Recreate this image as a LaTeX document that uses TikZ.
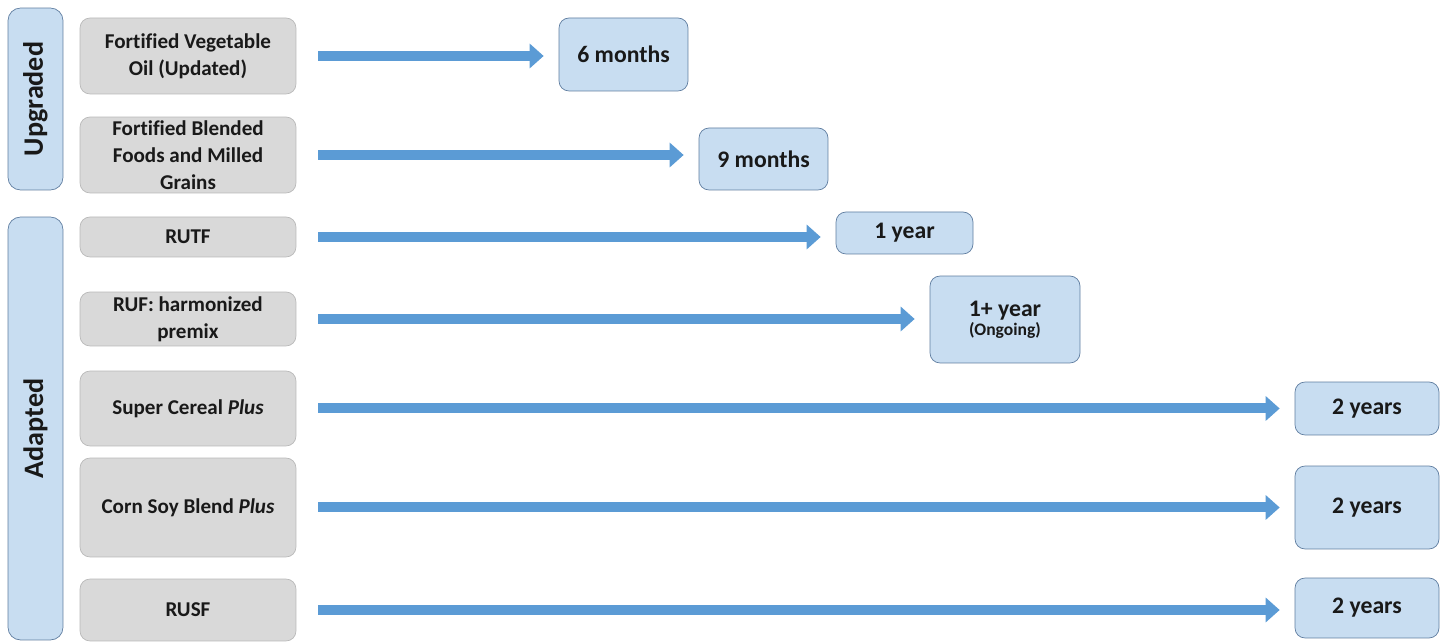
\documentclass[tikz,border=0pt]{standalone}
\usepackage{fontspec}
\setmainfont{Carlito}[Ligatures=CommonOff]
\usetikzlibrary{arrows.meta}
\definecolor{greyfill}{RGB}{217,217,217}
\definecolor{greyline}{RGB}{185,185,185}
\definecolor{bluefill}{RGB}{200,221,241}
\definecolor{blueline}{RGB}{95,125,160}
\definecolor{arrowblue}{RGB}{91,155,213}
\definecolor{inktext}{RGB}{25,25,25}

\begin{document}
\begin{tikzpicture}[x=0.02cm, y=-0.02cm,
		food/.style={draw=greyline, fill=greyfill, rounded corners=0.2cm, inner sep=0pt, minimum width=4.32cm, align=center, text=inktext, font=\fontsize{12}{15.3}\selectfont\bfseries},
		period/.style={draw=blueline, fill=bluefill, rounded corners=0.2cm, inner sep=0pt, align=center, text=inktext, font=\fontsize{13.5}{16}\selectfont\bfseries},
		group/.style={draw=blueline, fill=bluefill, rounded corners=0.25cm, inner sep=0pt, rotate=90, minimum height=1.1cm, text=inktext, font=\fontsize{16}{19}\selectfont\bfseries},
		bar/.style={draw=arrowblue, line width=0.2cm, shorten <=0.44cm, shorten >=0.3cm, -{Triangle[width=0.48cm, length=0.28cm]}}
	]
		\useasboundingbox (0,0) rectangle (1443,644);

		\node[group, minimum width=3.64cm] (upg) at (35.5,99) {Upgraded};
		\node[group, minimum width=8.46cm] (adp) at (35.5,428.5) {Adapted};

		\node[food, minimum height=1.52cm] (fvo) at (188,56) {Fortified Vegetable\\Oil (Updated)};
		\node[food, minimum height=1.52cm] (fbf) at (188,155) {Fortified Blended\\Foods and Milled\\Grains};
		\node[food, minimum height=0.8cm] (rutf) at (188,237) {RUTF};
		\node[food, minimum height=1.08cm] (ruf) at (188,319) {RUF: harmonized\\premix};
		\node[food, minimum height=1.5cm] (scp) at (188,408.5) {Super Cereal \textit{Plus}};
		\node[food, minimum height=1.98cm] (csb) at (188,507.5) {Corn Soy Blend \textit{Plus}};
		\node[food, minimum height=1.24cm] (rusf) at (188,610) {RUSF};

		\node[period, minimum width=2.58cm, minimum height=1.46cm] (m6) at (623.5,54.5) {6 months};
		\node[period, minimum width=2.58cm, minimum height=1.24cm] (m9) at (763.5,159) {9 months};
		\node[period, minimum width=2.74cm, minimum height=0.84cm] (y1) at (904.5,233) {1 year};
		\node[period, minimum width=3cm, minimum height=1.74cm] (y1p) at (1005,319.5) {1+ year\\[-5pt]{\fontsize{10}{12}\selectfont(Ongoing)}};
		\node[period, minimum width=2.88cm, minimum height=1.06cm] (y2a) at (1367,408.5) {2 years};
		\node[period, minimum width=2.88cm, minimum height=1.66cm] (y2b) at (1367,507.5) {2 years};
		\node[period, minimum width=2.88cm, minimum height=1.2cm] (y2c) at (1367,608) {2 years};

		\draw[bar] (fvo.east) -- (fvo.east -| m6.west);
		\draw[bar] (fbf.east) -- (fbf.east -| m9.west);
		\draw[bar] (rutf.east) -- (rutf.east -| y1.west);
		\draw[bar] (ruf.east) -- (ruf.east -| y1p.west);
		\draw[bar] (scp.east) -- (scp.east -| y2a.west);
		\draw[bar] (csb.east) -- (csb.east -| y2b.west);
		\draw[bar] (rusf.east) -- (rusf.east -| y2c.west);
	\end{tikzpicture}
\end{document}
